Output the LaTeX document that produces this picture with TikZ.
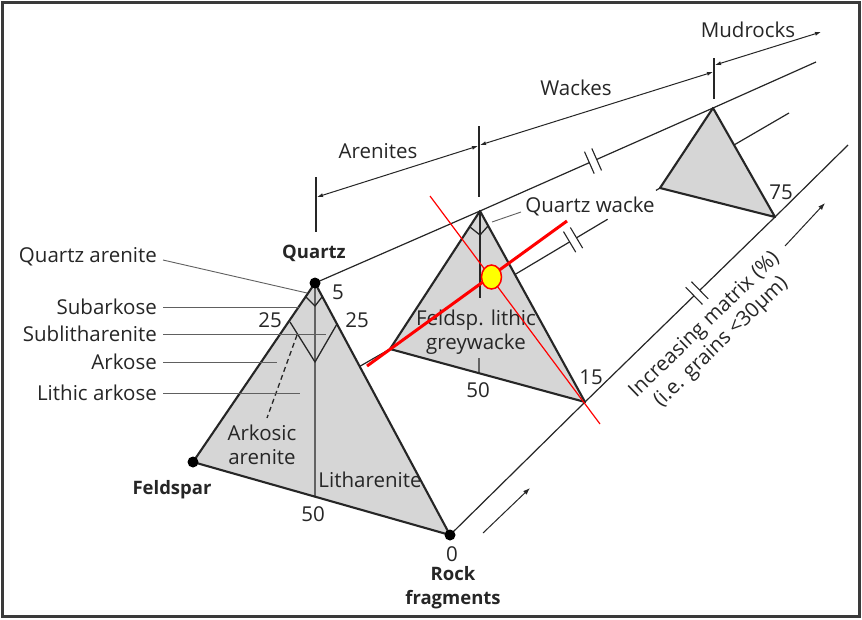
\documentclass[tikz,border=0pt]{standalone}
\usepackage{fontspec}
\setmainfont{Open Sans}
\usetikzlibrary{calc,arrows.meta}
\definecolor{ink}{HTML}{262626}
\definecolor{tri}{HTML}{D6D6D6}
\definecolor{lead}{HTML}{606060}
\definecolor{framec}{HTML}{3A3A3A}
\definecolor{redmark}{HTML}{FF0000}
\definecolor{yellowdot}{HTML}{FFFF00}
\tikzset{
  lbl/.style={font=\fontsize{20.5}{24}\selectfont, text=ink, inner sep=0pt},
  blbl/.style={font=\fontsize{18.5}{24}\selectfont\bfseries, text=ink, inner sep=0pt},
  trifill/.style={fill=tri, draw=ink, line width=2.1pt, line join=round},
  innerline/.style={draw=ink, line width=1.3pt, line join=round},
  longline/.style={draw=ink, line width=1.2pt},
  leader/.style={draw=lead, line width=0.9pt},
  dimline/.style={draw=ink, line width=1pt, {Latex[length=6pt,width=4pt]}-{Latex[length=6pt,width=4pt]}},
  incarrow/.style={draw=ink, line width=1pt, -{Latex[length=7pt,width=5pt]}},
  tick/.style={draw=ink, line width=1.2pt},
  vdot/.style={fill=black},
}
\newcommand\brkmark[3]{%
  \coordinate (bm) at ($(#1)!#3!(#2)$);
  \coordinate (bma) at ($(bm)!4pt!(#2)$);
  \coordinate (bmb) at ($(bm)!-4pt!(#2)$);
  \fill[white] ($(bma)!3pt!90:(#2)$) -- ($(bma)!3pt!-90:(#2)$) -- ($(bmb)!3pt!-90:(#2)$) -- ($(bmb)!3pt!90:(#2)$) -- cycle;
  \draw[ink, line width=1.1pt] ($(bma)!12pt!90:(#2)$) -- ($(bma)!12pt!-90:(#2)$);
  \draw[ink, line width=1.1pt] ($(bmb)!12pt!90:(#2)$) -- ($(bmb)!12pt!-90:(#2)$);
}
\begin{document}
\begin{tikzpicture}[x=1pt,y=-1pt]
\useasboundingbox (0,0) rectangle (862,619);
\fill[white] (0,0) rectangle (862,619);
\draw[framec, line width=3pt] (2.5,2.5) rectangle (859.5,616.5);

% vertices
\coordinate (Q1) at (315,283);
\coordinate (F1) at (193,462);
\coordinate (R1) at (450,535);
\coordinate (Q2) at (480,211);
\coordinate (F2) at (390,349);
\coordinate (R2) at (585,402);
\coordinate (Q3) at (713,108);
\coordinate (F3) at (660,188);
\coordinate (R3) at (775,217);
\coordinate (Qend) at (816,62);
\coordinate (Fend) at (789,113);
\coordinate (Rend) at (848,145);
\coordinate (fg1) at ($(F2)!0.806!(F3)$);
\coordinate (fg2) at ($(F2)!0.985!(F3)$);

% long parallel lines
\draw[longline] (Q1) -- (Q2) -- (Q3) -- (Qend);
\draw[longline] (F1) -- (F2) -- (fg1);
\draw[longline] (fg2) -- (F3) -- (Fend);
\draw[longline] (R1) -- (R2) -- (R3) -- (Rend);
\brkmark{Q2}{Q3}{0.485}
\brkmark{F2}{F3}{0.678}
\brkmark{R2}{R3}{0.589}

% triangles
\filldraw[trifill] (Q1) -- (F1) -- (R1) -- cycle;
\filldraw[trifill] (Q2) -- (F2) -- (R2) -- cycle;
\filldraw[trifill] (Q3) -- (F3) -- (R3) -- cycle;

% triangle 1 inner lines
\coordinate (b1) at ($(F1)!0.4747!(R1)$);
\coordinate (d1l) at (306,297);
\coordinate (d1b) at (315,306);
\coordinate (d1r) at (322,297);
\coordinate (v1l) at (290,322);
\coordinate (v1b) at (315,362);
\coordinate (v1r) at (337,324);
\draw[innerline] (Q1) -- (b1);
\draw[innerline] (d1l) -- (d1b) -- (d1r);
\draw[innerline] (v1l) -- (v1b) -- (v1r);
\coordinate (dsa) at (297,335);
\coordinate (dsb) at (267,418);
\draw[ink, line width=1.3pt, dash pattern=on 5pt off 3.5pt] (dsa) -- (dsb);

% triangle 2 inner lines
\coordinate (b2) at ($(F2)!0.4564!(R2)$);
\coordinate (d2l) at (470,227);
\coordinate (d2b) at (480,235);
\coordinate (d2r) at (488,226);
\coordinate (vt2) at (480,298);
\coordinate (vb2) at (479,358);
\draw[innerline] (Q2) -- (vt2);
\draw[innerline] (vb2) -- (b2);
\draw[innerline] (d2l) -- (d2b) -- (d2r);

% vertex dots
\fill[vdot] (Q1) circle (5.5);
\fill[vdot] (F1) circle (5.5);
\fill[vdot] (R1) circle (5.5);

% left labels and leaders
\node[lbl, anchor=east] (lqa) at (157,257) {Quartz arenite};
\node[lbl, anchor=east] (lsa) at (157,307) {Subarkose};
\node[lbl, anchor=east] (lsl) at (157,334) {Sublitharenite};
\node[lbl, anchor=east] (lar) at (157,362) {Arkose};
\node[lbl, anchor=east] (lla) at (157,393) {Lithic arkose};
\coordinate (eqa) at (307,293);
\coordinate (esa) at (299,307);
\coordinate (esl) at (326,334);
\coordinate (ear) at (277,362);
\coordinate (ela) at (300,393);
\coordinate (sqa) at (163,260);
\coordinate (ssa) at (163,307);
\coordinate (ssl) at (163,334);
\coordinate (sar) at (163,362);
\coordinate (sla) at (163,393);
\draw[leader] (sqa) -- (eqa);
\draw[leader] (ssa) -- (esa);
\draw[leader] (ssl) -- (esl);
\draw[leader] (sar) -- (ear);
\draw[leader] (sla) -- (ela);

% triangle 1 labels
\node[blbl] (tq) at (314,253) {Quartz};
\node[blbl] (tf) at (172,490) {Feldspar};
\node[blbl, align=center] (tr) at (453,588) {Rock\\fragments};
\node[lbl] (n5) at (338,292) {5};
\node[lbl] (n25a) at (270,320) {25};
\node[lbl] (n25b) at (357,320) {25};
\node[lbl, align=center] (tak) at (262,445) {Arkosic\\arenite};
\node[lbl] (tli) at (370,480) {Litharenite};
\node[lbl] (n50a) at (313,514) {50};
\node[lbl] (n0) at (452,554) {0};

% triangle 2 labels
\node[lbl, align=center] (tfg) at (476,332) {Feldsp. lithic\\greywacke};
\node[lbl] (n50b) at (478,390) {50};
\node[lbl] (n15) at (591,377) {15};
\node[lbl] (tqw) at (590,206) {Quartz wacke};
\coordinate (eqw) at (492,222);
\coordinate (sqw) at (521,212);
\draw[leader] (eqw) -- (sqw);

% triangle 3 label
\node[lbl] (n75) at (781,192) {75};

% top dimension lines
\coordinate (t1a) at (316,177);
\coordinate (t1b) at (316,232);
\coordinate (t2a) at (479,126);
\coordinate (t2b) at (479,197);
\coordinate (t3a) at (714,58);
\coordinate (t3b) at (714,99);
\draw[tick] (t1a) -- (t1b);
\draw[tick] (t2a) -- (t2b);
\draw[tick] (t3a) -- (t3b);
\coordinate (a1s) at (317,197);
\coordinate (a1e) at (478,146);
\coordinate (a2s) at (480,145);
\coordinate (a2e) at (713,72);
\coordinate (a3s) at (715,65);
\coordinate (a3e) at (821,32);
\draw[dimline] (a1s) -- (a1e);
\draw[dimline] (a2s) -- (a2e);
\draw[dimline] (a3s) -- (a3e);
\node[lbl] (tare) at (378,151) {Arenites};
\node[lbl] (twa) at (576,88) {Wackes};
\node[lbl] (tmu) at (748,30) {Mudrocks};

% increasing matrix
\coordinate (ia1) at (483,533);
\coordinate (ib1) at (530,488);
\coordinate (ia2) at (785,246);
\coordinate (ib2) at (825,203);
\draw[incarrow] (ia1) -- (ib1);
\draw[incarrow] (ia2) -- (ib2);
\node[lbl, rotate=44, align=center] (tim) at (713,334) {Increasing matrix (\%)\\(i.e. grains <30μm)};

% red overlay
\coordinate (ra) at (367,366);
\coordinate (rb) at (567,221);
\coordinate (rc) at (430,196);
\coordinate (rd) at (600,424);
\draw[redmark, line width=1.2pt] (rc) -- (rd);
\draw[redmark, line width=3pt] (ra) -- (rb);
\filldraw[fill=yellowdot, draw=redmark, line width=1.5pt] (491.5,277) ellipse [x radius=10, y radius=12];
\end{tikzpicture}
\end{document}
